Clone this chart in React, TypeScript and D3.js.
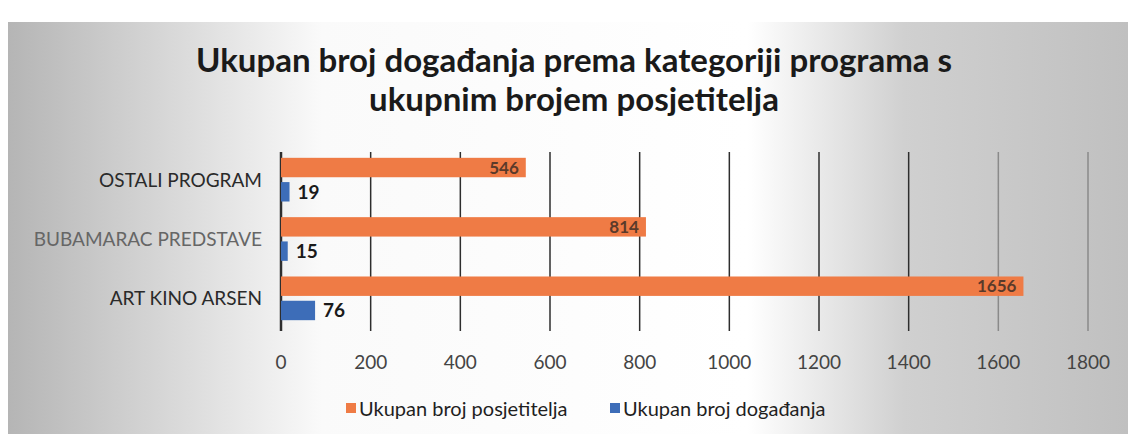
import React, { useEffect, useRef } from 'react';
import * as d3 from 'd3';

const categories = ['OSTALI PROGRAM', 'BUBAMARAC PREDSTAVE', 'ART KINO ARSEN'];
const posjetitelji = [546, 814, 1656];
const dogadanja = [19, 15, 76];
const seriesNames = ['Ukupan broj posjetitelja', 'Ukupan broj događanja'];
const seriesColors = ['#EF7B45', '#3D6DB8'];
const xTicks = [0, 200, 400, 600, 800, 1000, 1200, 1400, 1600, 1800];
const titleLines = ['Ukupan broj događanja prema kategoriji programa s', 'ukupnim brojem posjetitelja'];

const W = 1128;
const H = 446;
const font = 'Lato, "Open Sans", sans-serif';

export default function App() {
    const ref = useRef<SVGSVGElement>(null);

    useEffect(() => {
        const svg = d3.select(ref.current);
        svg.selectAll('*').remove();

        // scanned paper look: grey edges, white middle
        const defs = svg.append('defs');
        const grad = defs.append('linearGradient').attr('id', 'bg').attr('x1', '0').attr('x2', '1');
        [
            [0, '#b5b5b5'],
            [0.17, '#dedede'],
            [0.28, '#fafafa'],
            [0.66, '#ffffff'],
            [0.8, '#d0d0d0'],
            [1, '#c0c0c0'],
        ].forEach(([o, c]) => grad.append('stop').attr('offset', o as number).attr('stop-color', c as string));

        svg.append('rect').attr('width', W).attr('height', H).attr('fill', '#fff');
        svg.append('rect').attr('x', 8).attr('y', 22).attr('width', W - 8).attr('height', 412).attr('fill', 'url(#bg)');

        const title = svg.append('text')
            .attr('text-anchor', 'middle')
            .attr('font-family', font)
            .attr('font-weight', 'bold')
            .attr('font-size', 33)
            .attr('fill', '#1a1a1a');
        titleLines.forEach((t, i) => {
            title.append('tspan').attr('x', 574).attr('y', 72 + i * 39).text(t);
        });

        const x = d3.scaleLinear().domain([0, 1800]).range([281, 1088]);
        const y = d3.scaleBand().domain(categories).range([150, 328]).paddingInner(0.1).paddingOuter(0.05);
        const sub = d3.scaleBand().domain(['p', 'd']).range([0, y.bandwidth()]).paddingInner(0.2).paddingOuter(0.2);

        // gridlines
        svg.append('g')
            .selectAll('line')
            .data(xTicks)
            .join('line')
            .attr('x1', (d) => x(d))
            .attr('x2', (d) => x(d))
            .attr('y1', 152)
            .attr('y2', 331)
            .attr('stroke', (d) => (d >= 1600 ? '#8a8a8a' : '#2e2e2e'))
            .attr('stroke-width', (d) => (d === 0 ? 2.5 : 1.5));

        const rows = categories.map((c, i) => ({ c, p: posjetitelji[i], d: dogadanja[i] }));

        svg.append('g')
            .selectAll('rect')
            .data(rows)
            .join('rect')
            .attr('x', x(0))
            .attr('y', (d) => (y(d.c) as number) + (sub('p') as number))
            .attr('width', (d) => x(d.p) - x(0))
            .attr('height', sub.bandwidth())
            .attr('fill', seriesColors[0]);

        svg.append('g')
            .selectAll('rect')
            .data(rows)
            .join('rect')
            .attr('x', x(0))
            .attr('y', (d) => (y(d.c) as number) + (sub('d') as number))
            .attr('width', (d) => x(d.d) - x(0))
            .attr('height', sub.bandwidth())
            .attr('fill', seriesColors[1]);

        // data labels
        svg.append('g')
            .selectAll('text')
            .data(rows)
            .join('text')
            .attr('x', (d) => x(d.p) - 7)
            .attr('y', (d) => (y(d.c) as number) + (sub('p') as number) + sub.bandwidth() / 2 + 6)
            .attr('text-anchor', 'end')
            .attr('font-family', font)
            .attr('font-weight', 'bold')
            .attr('font-size', 17)
            .attr('fill', '#5a3a2a')
            .text((d) => d.p);

        svg.append('g')
            .selectAll('text')
            .data(rows)
            .join('text')
            .attr('x', (d) => x(d.d) + 8)
            .attr('y', (d) => (y(d.c) as number) + (sub('d') as number) + sub.bandwidth() / 2 + 7)
            .attr('font-family', font)
            .attr('font-weight', 'bold')
            .attr('font-size', 19)
            .attr('fill', '#1a1a1a')
            .text((d) => d.d);

        // category labels
        svg.append('g')
            .selectAll('text')
            .data(categories)
            .join('text')
            .attr('x', 262)
            .attr('y', (d) => (y(d) as number) + y.bandwidth() / 2 + 7)
            .attr('text-anchor', 'end')
            .attr('font-family', font)
            .attr('font-size', 19)
            .attr('fill', (d, i) => (i === 1 ? '#666' : '#2a2a2a'))
            .text((d) => d);

        // tick labels
        svg.append('g')
            .selectAll('text')
            .data(xTicks)
            .join('text')
            .attr('x', (d) => x(d))
            .attr('y', 369)
            .attr('text-anchor', 'middle')
            .attr('font-family', font)
            .attr('font-size', 19)
            .attr('fill', '#444')
            .text((d) => d);

        // legend
        const lg = svg.append('g');
        const lx = [346, 610];
        seriesNames.forEach((s, i) => {
            lg.append('rect').attr('x', lx[i]).attr('y', 403).attr('width', 10).attr('height', 10).attr('fill', seriesColors[i]);
            lg.append('text')
                .attr('x', lx[i] + 13)
                .attr('y', 416)
                .attr('font-family', font)
                .attr('font-size', 20)
                .attr('fill', '#1f1f1f')
                .text(s);
        });
    }, []);

    return (
        <svg ref={ref} width={W} height={H} style={{ position: 'absolute', left: 0, top: 0 }} />
    );
}
